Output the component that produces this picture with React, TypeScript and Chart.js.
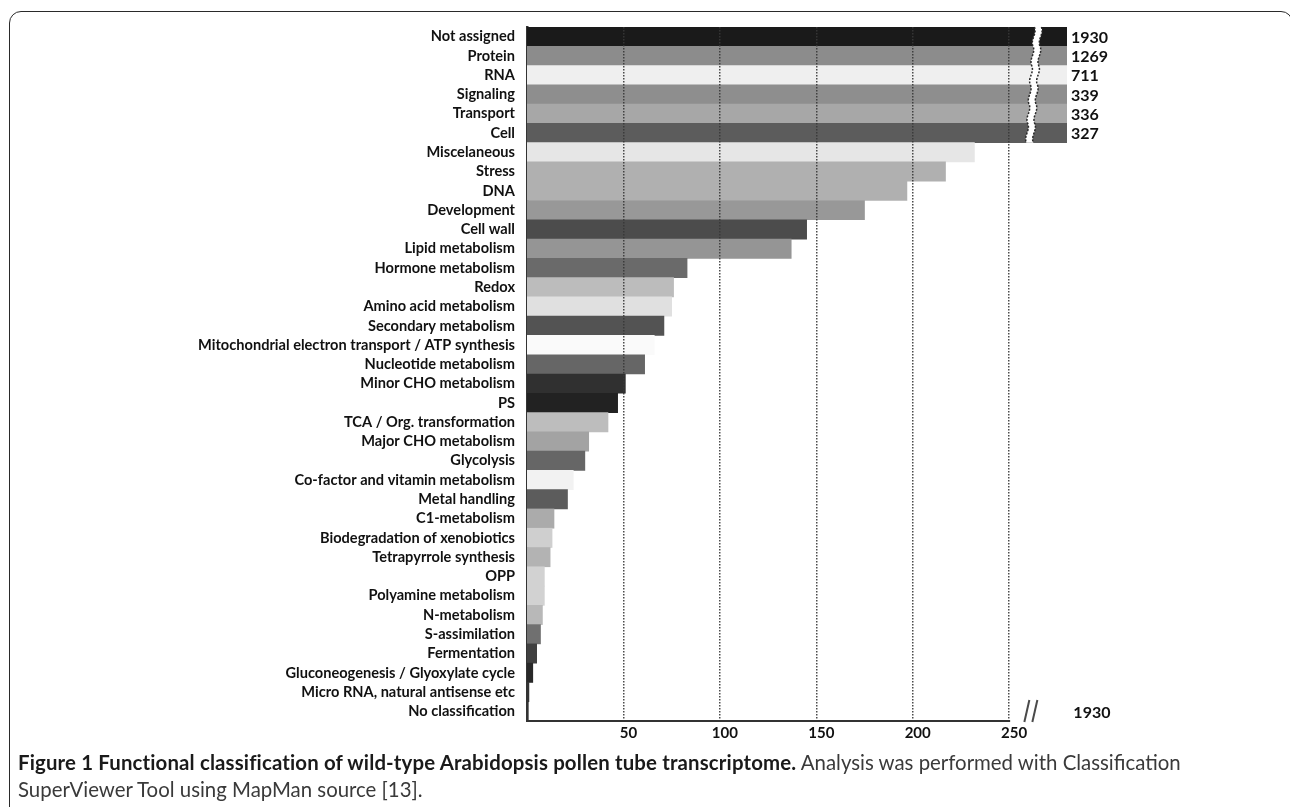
import React, { useEffect, useRef } from "react";
import { Chart, registerables } from "chart.js";

Chart.register(...registerables);

// ---- data ----
const categories: string[] = [
  "Not assigned",
  "Protein",
  "RNA",
  "Signaling",
  "Transport",
  "Cell",
  "Miscelaneous",
  "Stress",
  "DNA",
  "Development",
  "Cell wall",
  "Lipid metabolism",
  "Hormone metabolism",
  "Redox",
  "Amino acid metabolism",
  "Secondary metabolism",
  "Mitochondrial electron transport / ATP synthesis",
  "Nucleotide metabolism",
  "Minor CHO metabolism",
  "PS",
  "TCA / Org. transformation",
  "Major CHO metabolism",
  "Glycolysis",
  "Co-factor and vitamin metabolism",
  "Metal handling",
  "C1-metabolism",
  "Biodegradation of xenobiotics",
  "Tetrapyrrole synthesis",
  "OPP",
  "Polyamine metabolism",
  "N-metabolism",
  "S-assimilation",
  "Fermentation",
  "Gluconeogenesis / Glyoxylate cycle",
  "Micro RNA, natural antisense etc",
  "No classification",
];

const counts: number[] = [
  1930, 1269, 711, 339, 336, 327, 232, 217, 197, 175, 145, 137, 83, 76, 75, 71,
  66, 61, 51, 47, 42, 32, 30, 24, 21, 14, 13, 12, 9, 9, 8, 7, 5, 3, 1, 0.5,
];

const barColors: string[] = [
  "#1a1a1a", "#8c8c8c", "#efefef", "#8e8e8e", "#a7a7a7", "#5c5c5c",
  "#e6e6e6", "#b0b0b0", "#b0b0b0", "#989898", "#4c4c4c", "#959595",
  "#6a6a6a", "#bcbcbc", "#e0e0e0", "#535353", "#fafafa", "#666666",
  "#303030", "#222222", "#bdbdbd", "#a3a3a3", "#666666", "#f2f2f2",
  "#5c5c5c", "#ababab", "#cfcfcf", "#b3b3b3", "#d2d2d2", "#d2d2d2",
  "#b8b8b8", "#707070", "#404040", "#282828", "#333333", "#333333",
];

const xTickValues: number[] = [50, 100, 150, 200, 250];
const AXIS_MAX = 280; // visual end of broken bars
const AXIS_END = 250; // last labelled value of the axis
const BREAK_AT = 261; // where the break is drawn
const brokenAxisLabel = "1930";

const displayValues = counts.map((v) => Math.min(v, AXIS_MAX));

const FONT = "Lato, 'Noto Sans', sans-serif";

const breakPlugin = {
  id: "axisBreak",
  afterDraw(chart: any) {
    const { ctx, chartArea, scales } = chart;
    const xs = scales.x;
    const meta = chart.getDatasetMeta(0);
    const bars = meta.data;
    ctx.save();

    // x axis line from 0 to 250
    const x0 = xs.getPixelForValue(0);
    const xEnd = xs.getPixelForValue(AXIS_END);
    ctx.strokeStyle = "#333";
    ctx.lineWidth = 2;
    ctx.setLineDash([]);
    ctx.beginPath();
    ctx.moveTo(x0 - 1, chartArea.bottom);
    ctx.lineTo(xEnd + 1, chartArea.bottom);
    ctx.stroke();

    // broken bars
    const brokenIdx: number[] = [];
    counts.forEach((v, i) => {
      if (v > AXIS_MAX) brokenIdx.push(i);
    });
    if (brokenIdx.length) {
      const first = bars[brokenIdx[0]];
      const last = bars[brokenIdx[brokenIdx.length - 1]];
      const topY = first.y - first.height / 2;
      const botY = last.y + last.height / 2;
      const bx = xs.getPixelForValue(BREAK_AT);
      const slant = 8;
      const gap = 7;
      const edgeX = (y: number) => bx + slant * (0.5 - (y - topY) / (botY - topY));
      const segs: number[][] = brokenIdx.map((i) => {
        const b = bars[i];
        return [b.y - b.height / 2, b.y + b.height / 2];
      });
      const pathEdge = (off: number) => {
        segs.forEach(([y1, y2], k) => {
          const xa = edgeX(y1) + off;
          const xb = edgeX(y2) + off;
          if (k === 0) ctx.moveTo(xa, y1);
          const h = y2 - y1;
          ctx.bezierCurveTo(xa + 3, y1 + h * 0.35, xb - 3, y1 + h * 0.65, xb, y2);
        });
      };
      // white gap
      ctx.fillStyle = "#ffffff";
      ctx.beginPath();
      pathEdge(0);
      ctx.lineTo(edgeX(botY) + gap, botY);
      for (let k = segs.length - 1; k >= 0; k--) {
        const [y1, y2] = segs[k];
        const xa = edgeX(y2) + gap;
        const xb = edgeX(y1) + gap;
        const h = y2 - y1;
        ctx.bezierCurveTo(xa - 3, y1 + h * 0.65, xb + 3, y1 + h * 0.35, xb, y1);
      }
      ctx.closePath();
      ctx.fill();
      // dark dotted edges
      ctx.strokeStyle = "#2a2a2a";
      ctx.lineWidth = 1.5;
      ctx.setLineDash([2, 1.5]);
      ctx.beginPath();
      pathEdge(0);
      ctx.stroke();
      ctx.beginPath();
      pathEdge(gap);
      ctx.stroke();
      ctx.setLineDash([]);

      // value labels for broken bars
      ctx.fillStyle = "#111";
      ctx.font = `bold 16px ${FONT}`;
      ctx.textAlign = "left";
      ctx.textBaseline = "middle";
      brokenIdx.forEach((i) => {
        const b = bars[i];
        ctx.fillText(String(counts[i]), b.x + 4, b.y + 1);
      });

      // axis break marks "//"
      const by = chartArea.bottom;
      ctx.strokeStyle = "#4a4a4a";
      ctx.lineWidth = 2;
      [0, 8].forEach((dx) => {
        ctx.beginPath();
        ctx.moveTo(bx - 1 + dx, by - 21);
        ctx.lineTo(bx - 6 + dx, by + 1);
        ctx.stroke();
      });
      ctx.fillStyle = "#111";
      ctx.font = `bold 16px ${FONT}`;
      ctx.textAlign = "left";
      ctx.textBaseline = "middle";
      ctx.fillText(brokenAxisLabel, bx + 43, by - 8);
    }
    ctx.restore();
  },
};

function BarChart() {
  const ref = useRef<HTMLCanvasElement | null>(null);
  useEffect(() => {
    if (!ref.current) return;
    Chart.defaults.font.family = FONT;
    const chart = new Chart(ref.current, {
      type: "bar",
      data: {
        labels: categories,
        datasets: [
          {
            data: displayValues,
            backgroundColor: barColors,
            borderWidth: 0,
            barPercentage: 1,
            categoryPercentage: 1,
          },
        ],
      },
      options: {
        indexAxis: "y",
        animation: false,
        responsive: true,
        maintainAspectRatio: false,
        layout: { padding: { top: 27, right: 223, bottom: 0, left: 0 } },
        plugins: {
          legend: { display: false },
          tooltip: { enabled: false },
          title: { display: false },
        },
        scales: {
          x: {
            type: "linear",
            min: 0,
            max: AXIS_MAX,
            afterBuildTicks: (scale: any) => {
              scale.ticks = xTickValues.map((v) => ({ value: v }));
            },
            afterFit: (scale: any) => {
              scale.height = 29;
            },
            grid: {
              display: true,
              color: "rgba(55,55,55,0.9)",
              lineWidth: 1.5,
              drawTicks: false,
              z: 1,
            },
            border: { display: false, dash: [1.5, 1.5] },
            ticks: {
              padding: 3,
              labelOffset: 5,
              color: "#111",
              font: { size: 15, weight: "bold", family: FONT },
              maxRotation: 0,
            },
          },
          y: {
            type: "category",
            afterFit: (scale: any) => {
              scale.width = 527;
            },
            grid: { display: false, drawTicks: false },
            border: { display: true, color: "#333", width: 2.5 },
            ticks: {
              autoSkip: false,
              padding: 12,
              color: "#111",
              font: { size: 14.6, weight: "bold", family: FONT },
            },
          },
        },
      },
      plugins: [breakPlugin],
    } as any);
    return () => chart.destroy();
  }, []);
  return (
    <div style={{ position: "absolute", left: 0, top: 0, width: 1290, height: 750 }}>
      <canvas ref={ref} />
    </div>
  );
}

export default function App() {
  return (
    <div
      style={{
        position: "absolute",
        left: 0,
        top: 0,
        width: 1290,
        height: 807,
        overflow: "hidden",
        background: "#fff",
      }}
    >
      <div
        style={{
          position: "absolute",
          left: 9,
          top: 11,
          width: 1284,
          height: 830,
          border: "1.6px solid #2a2a2a",
          borderRadius: 12,
          boxSizing: "border-box",
        }}
      />
      <BarChart />
      <div
        style={{
          position: "absolute",
          left: 18,
          top: 749,
          fontFamily: FONT,
          fontSize: 20.4,
          lineHeight: "27px",
          whiteSpace: "nowrap",
          color: "#3a3a3a",
        }}
      >
        <span style={{ fontWeight: 700, color: "#1a1a1a", letterSpacing: 0.15 }}>
          Figure 1 Functional classification of wild-type Arabidopsis pollen tube transcriptome.
        </span>{" "}
        Analysis was performed with Classification
        <br />
        SuperViewer Tool using MapMan source [13].
      </div>
    </div>
  );
}
